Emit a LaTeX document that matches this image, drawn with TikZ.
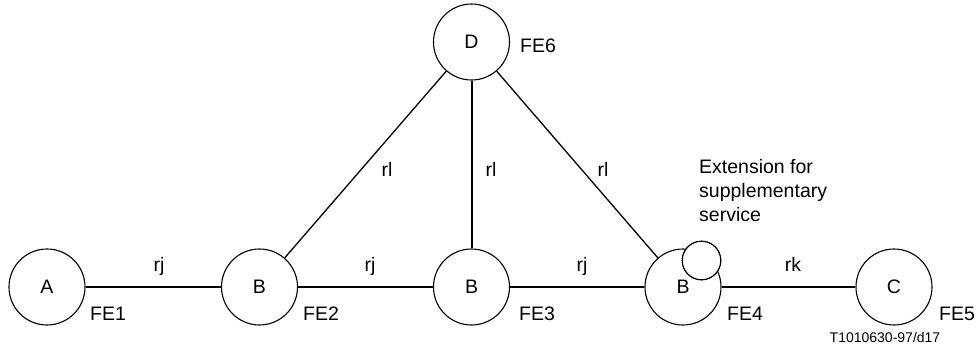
\documentclass[tikz,border=0pt]{standalone}
\usepackage{fontspec}
\setmainfont{Liberation Sans}
\begin{document}
\begin{tikzpicture}[x=1pt,y=-1pt,
  fe/.style={circle,draw=black,line width=1.1pt,fill=white,minimum size=76pt,inner sep=0pt,font=\fontsize{19.5}{23}\selectfont},
  ext/.style={circle,draw=black,line width=1.1pt,fill=white,minimum size=38.5pt,inner sep=0pt},
  lbl/.style={inner sep=0pt,font=\fontsize{19.5}{23}\selectfont},
  hl/.style={line width=2pt},
  dl/.style={line width=1.3pt}]
\useasboundingbox (0,0) rectangle (978,354);
\fill[white] (0,0) rectangle (978,354);
% nodes
\node[fe] (A)  at (47,287) {A};
\node[fe] (B2) at (259.5,287) {B};
\node[fe] (B3) at (471.5,287) {B};
\node[fe] (B4) at (683,287) {B};
\node[fe] (C)  at (894,287) {C};
\node[fe] (D)  at (471.5,42) {D};
\node[ext] (X) at (701.5,260.5) {};
% connectors
\draw[hl] (A) -- (B2);
\draw[hl] (B2) -- (B3);
\draw[hl] (B3) -- (B4);
\draw[hl] (B4) -- (C);
\draw[hl] (D) -- (B3);
\draw[dl] (D) -- (B2);
\draw[dl] (D) -- (B4);
% redraw small circle on top
\node[ext] at (X) {};
% labels
\node[lbl,anchor=base west] (fe1) at (90,320.5) {FE1};
\node[lbl,anchor=base west] (fe2) at (303,320.5) {FE2};
\node[lbl,anchor=base west] (fe3) at (519,320.5) {FE3};
\node[lbl,anchor=base west] (fe4) at (727,320.5) {FE4};
\node[lbl,anchor=base west] (fe5) at (939,320.5) {FE5};
\node[lbl,anchor=base west] (fe6) at (520,52) {FE6};
\node[lbl,anchor=base] (rj1) at (159,271) {rj};
\node[lbl,anchor=base] (rj2) at (370,271) {rj};
\node[lbl,anchor=base] (rj3) at (582,271) {rj};
\node[lbl,anchor=base] (rk) at (793,271) {rk};
\node[lbl,anchor=base] (rl1) at (387,176.5) {rl};
\node[lbl,anchor=base] (rl2) at (491,176.5) {rl};
\node[lbl,anchor=base] (rl3) at (603,176.5) {rl};
\node[lbl,anchor=base west] (e1) at (699,173.5) {Extension for};
\node[lbl,anchor=base west] (e2) at (699,197.5) {supplementary};
\node[lbl,anchor=base west] (e3) at (699,221.5) {service};
\node[inner sep=0pt,anchor=base,font=\fontsize{14}{16}\selectfont] (tag) at (885,342) {T1010630-97/d17};
\end{tikzpicture}
\end{document}
